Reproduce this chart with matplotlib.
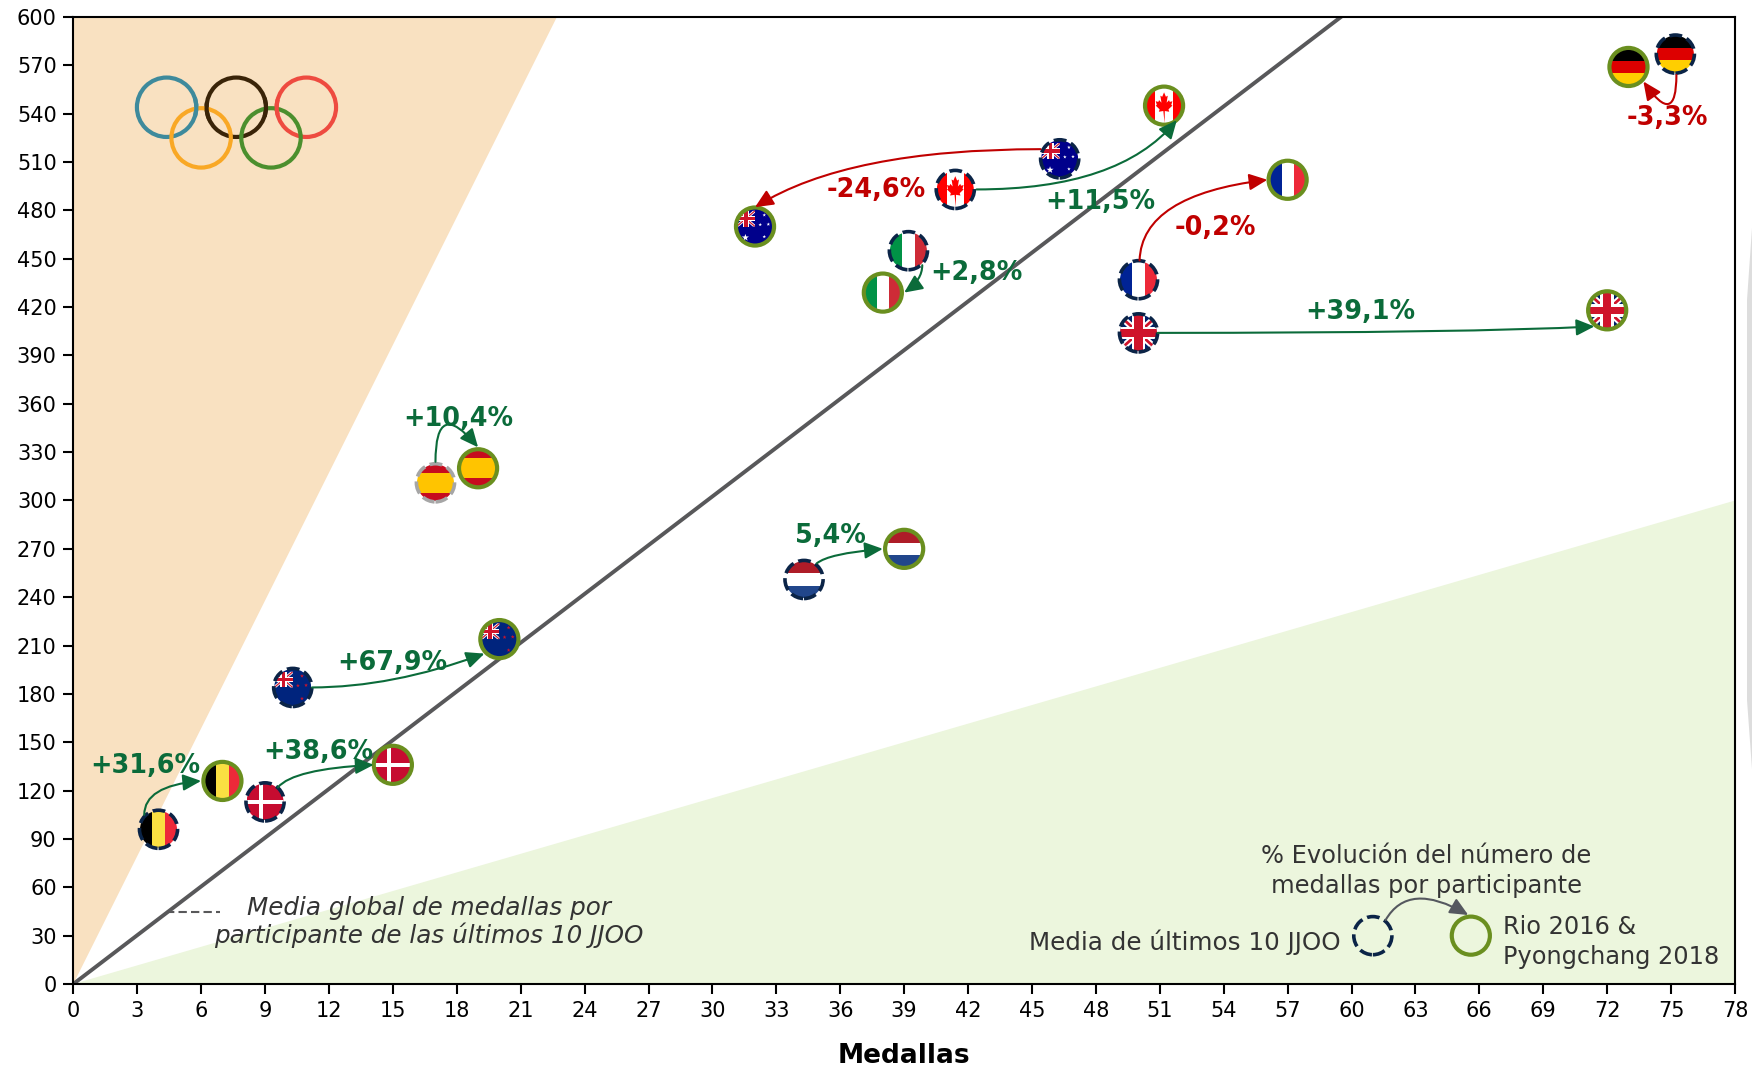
import matplotlib
matplotlib.use("Agg")
import matplotlib.pyplot as plt
from matplotlib.patches import Circle, Polygon, FancyArrowPatch, PathPatch
from matplotlib.path import Path
from matplotlib.transforms import Affine2D

plt.rcParams['font.family'] = ['DejaVu Sans']

# Medallas / participantes: media ultimos 10 JJOO -> Rio 2016 & Pyongchang 2018
countries = ['bel', 'dnk', 'nzl', 'esp', 'nld', 'ita', 'aus', 'can', 'fra', 'gbr', 'deu']
old_x = [4, 9, 10.3, 17, 34.3, 39.2, 46.3, 41.4, 50, 50, 75.2]
old_y = [96, 113, 184, 311, 251, 455, 512, 493, 437, 404, 577]
new_x = [7, 15, 20, 19, 39, 38, 32, 51.2, 57, 72, 73]
new_y = [126, 136, 214, 320, 270, 429, 470, 545, 499, 418, 569]

pct_labels = ['+31,6%', '+38,6%', '+67,9%', '+10,4%', '5,4%', '+2,8%', '-24,6%', '+11,5%', '-0,2%', '+39,1%', '-3,3%']
pct_x = [3.4, 11.5, 14.95, 18.05, 35.55, 42.4, 37.7, 48.2, 53.6, 60.4, 74.8]
pct_y = [135, 144, 199, 350.5, 278, 441, 492.5, 485, 469, 417, 537.5]
pct_color = ['g', 'g', 'g', 'g', 'g', 'g', 'r', 'g', 'r', 'g', 'r']

# extremos de las flechas, en las mismas unidades que los ejes
arrow_x0 = [3.33, 9.6, 11.2, 17, 34.9, 39.85, 45.4, 42.4, 50.05, 50.9, 75.25]
arrow_y0 = [105, 122, 184, 324, 261, 446, 518, 493, 449, 404, 564]
arrow_x1 = [6.0, 14.1, 19.3, 19, 38, 39, 32, 51.8, 56.05, 71.4, 73.7]
arrow_y1 = [126, 136, 205, 333, 270, 429, 482, 536, 499, 408, 560]
# angulos de salida y de llegada de cada curva
arrow_a = [90, 50, 0, 90, 40, 90, 0, 0, 88, 0, 90]
arrow_b = [5, 3, 20, -50, 5, 35, 32, 50, 7, 3, -55]

ring_x = [4.38, 7.65, 10.94, 6.0, 9.28]
ring_y = [544, 544, 544, 525, 525]
ring_col = ['#3E8A9C', '#3A2408', '#EE4B40', '#F9A825', '#4C8F2E']

ticks_x = list(range(0, 79, 3))
ticks_y = list(range(0, 601, 30))

GREEN = '#0B6B3A'
RED = '#C00000'
NAVY = '#0B2447'
OLIVE = '#6A8F1F'
R = 18.5  # radio de la bandera en pixeles

fig = plt.figure(figsize=(17.52, 10.69), dpi=100)
ax = fig.add_axes([73.3 / 1752, 1 - 984 / 1069, (1735 - 73.3) / 1752, 967 / 1069])
ax.set_xlim(0, 78)
ax.set_ylim(0, 600)
ax.set_xticks(ticks_x)
ax.set_yticks(ticks_y)
ax.tick_params(labelsize=15, length=7, width=1.5, pad=5)
for s in ax.spines.values():
    s.set_linewidth(1.5)
ax.set_xlabel('Medallas', fontsize=19, fontweight='bold', labelpad=16)

ax.fill([0, 22.7, 0], [0, 600, 600], color='#F9E1C1', lw=0, zorder=0)
ax.fill([0, 78, 78], [0, 300, 0], color='#ECF6DD', lw=0, zorder=0)
ax.plot([0, 59.5], [0, 600], color='#58585A', lw=2.8, zorder=1)
ax.plot([4.35, 6.9], [44.4, 44.4], color='#58585A', lw=1.5, ls=(0, (4, 2)), zorder=1)

# sombra gris que asoma en el borde derecho de la imagen
fig.add_artist(Polygon([(1752 / 1752, 1 - 228 / 1069), (1747 / 1752, 1 - 300 / 1069),
                        (1747 / 1752, 1 - 700 / 1069), (1752 / 1752, 1 - 769 / 1069)],
                       closed=True, fc='#DDDDDD', ec='none', transform=fig.transFigure))


def px(x, y):
    return ax.transData.transform((x, y))


def unit(x, y):
    cx, cy = px(x, y)
    return Affine2D().scale(R).translate(cx, cy)


def poly(tr, clip, pts, col, z=3):
    p = Polygon(pts, closed=True, fc=col, ec='none', transform=tr, zorder=z)
    ax.add_patch(p)
    p.set_clip_path(clip)


def bars(tr, clip, cols, edges, vertical=True):
    for c, a, b in zip(cols, edges, edges[1:]):
        if vertical:
            poly(tr, clip, [(a, -1), (b, -1), (b, 1), (a, 1)], c)
        else:
            poly(tr, clip, [(-1, a), (1, a), (1, b), (-1, b)], c)


def union_jack(tr, clip, x0, y0, w, h):
    def rect(a, b, c, d, col):
        poly(tr, clip, [(a, b), (c, b), (c, d), (a, d)], col)

    def diag(t, col):
        tx, ty = t * w, t * h
        poly(tr, clip, [(x0, y0), (x0 + tx, y0), (x0 + w, y0 + h - ty), (x0 + w, y0 + h),
                        (x0 + w - tx, y0 + h), (x0, y0 + ty)], col)
        poly(tr, clip, [(x0, y0 + h), (x0, y0 + h - ty), (x0 + w - tx, y0), (x0 + w, y0),
                        (x0 + w, y0 + ty), (x0 + tx, y0 + h)], col)

    cx, cy = x0 + w / 2, y0 + h / 2
    diag(0.12, 'white')
    diag(0.05, '#CF142B')
    rect(x0, cy - 0.17 * h, x0 + w, cy + 0.17 * h, 'white')
    rect(cx - 0.17 * w, y0, cx + 0.17 * w, y0 + h, 'white')
    rect(x0, cy - 0.1 * h, x0 + w, cy + 0.1 * h, '#CF142B')
    rect(cx - 0.1 * w, y0, cx + 0.1 * w, y0 + h, '#CF142B')


def stars(tr, clip, pts, col):
    star = Path.unit_regular_star(5, 0.4)
    for x, y, s in pts:
        p = PathPatch(star, fc=col, ec='none', zorder=3,
                      transform=Affine2D().scale(s).translate(x, y) + tr)
        ax.add_patch(p)
        p.set_clip_path(clip)


def draw_flag(code, tr, clip):
    if code == 'bel':
        bars(tr, clip, ['black', '#FAE042', '#ED2939'], [-1, -0.33, 0.33, 1])
    elif code == 'ita':
        bars(tr, clip, ['#009246', 'white', '#CE2B37'], [-1, -0.33, 0.33, 1])
    elif code == 'fra':
        bars(tr, clip, ['#002395', 'white', '#ED2939'], [-1, -0.33, 0.33, 1])
    elif code == 'deu':
        bars(tr, clip, ['#FFCE00', '#DD0000', 'black'], [-1, -0.33, 0.33, 1], vertical=False)
    elif code == 'nld':
        bars(tr, clip, ['#21468B', 'white', '#AE1C28'], [-1, -0.33, 0.33, 1], vertical=False)
    elif code == 'esp':
        bars(tr, clip, ['#C60B1E', '#FFC400', '#C60B1E'], [-1, -0.55, 0.55, 1], vertical=False)
    elif code == 'dnk':
        bars(tr, clip, ['#C60C30'], [-1, 1])
        poly(tr, clip, [(-1, -0.1), (1, -0.1), (1, 0.1), (-1, 0.1)], 'white')
        poly(tr, clip, [(-0.32, -1), (-0.12, -1), (-0.12, 1), (-0.32, 1)], 'white')
    elif code == 'can':
        bars(tr, clip, ['#FF0000', 'white', '#FF0000'], [-1, -0.47, 0.47, 1])
        half = [(0, 0.72), (0.1, 0.48), (0.2, 0.54), (0.14, 0.16), (0.27, 0.3), (0.31, 0.2),
                (0.45, 0.24), (0.39, 0.04), (0.45, 0), (0.24, -0.2), (0.28, -0.33), (0.04, -0.29),
                (0.03, -0.95)]
        leaf = half + [(-x, y) for x, y in reversed(half[:-1])]
        poly(tr, clip, leaf, '#FF0000')
    elif code == 'gbr':
        bars(tr, clip, ['#012169'], [-1, 1])
        union_jack(tr, clip, -1.1, -1, 2.2, 2)
    elif code == 'aus':
        bars(tr, clip, ['#00008B'], [-1, 1])
        union_jack(tr, clip, -1, 0, 1, 0.85)
        stars(tr, clip, [(-0.52, -0.6, 0.2), (0.5, 0.62, 0.1), (0.72, 0.12, 0.1),
                         (0.28, 0.1, 0.1), (0.5, -0.55, 0.1)], 'white')
    elif code == 'nzl':
        bars(tr, clip, ['#00247D'], [-1, 1])
        union_jack(tr, clip, -1, 0, 1, 0.85)
        stars(tr, clip, [(0.5, 0.62, 0.11), (0.72, 0.12, 0.11), (0.28, 0.1, 0.11),
                         (0.5, -0.6, 0.11)], '#CC142B')


def flag_marker(code, x, y, old):
    tr = unit(x, y)
    clip = Circle((0, 0), 1, transform=tr)
    draw_flag(code, tr, clip)
    if old:
        col = '#A6A6A6' if code == 'esp' else NAVY
        ax.add_patch(Circle((0, 0), 1.03, fc='none', ec=col, lw=2.6, ls=(0, (3.5, 1.4)),
                            transform=tr, zorder=4))
    else:
        ax.add_patch(Circle((0, 0), 1.03, fc='none', ec=OLIVE, lw=3, transform=tr, zorder=4))


def curve(x0, y0, x1, y1, a, b, col, z=5):
    ax.add_patch(FancyArrowPatch((x0, y0), (x1, y1), connectionstyle=f'angle3,angleA={a},angleB={b}',
                                 arrowstyle='-|>,head_length=11,head_width=5', mutation_scale=1,
                                 color=col, lw=1.5, shrinkA=0, shrinkB=0, zorder=z))


# aros olimpicos
for x, y, c in zip(ring_x, ring_y, ring_col):
    cx, cy = px(x, y)
    ax.add_patch(Circle((cx, cy), 29.7, fc='none', ec=c, lw=3, transform=None, zorder=2))
# entrelazado: se repasan los tramos que pasan por encima
for i, a, b in [(0, -18, 18), (1, -18, 18), (1, 170, 205), (2, 165, 195)]:
    cx, cy = px(ring_x[i], ring_y[i])
    arc = Path.arc(a, b)
    ax.add_patch(PathPatch(arc, fc='none', ec=ring_col[i], lw=3, capstyle='butt', zorder=2,
                           transform=Affine2D().scale(29.7).translate(cx, cy)))

for code, xo, yo, xn, yn in zip(countries, old_x, old_y, new_x, new_y):
    flag_marker(code, xo, yo, True)
    flag_marker(code, xn, yn, False)

for x0, y0, x1, y1, a, b, c in zip(arrow_x0, arrow_y0, arrow_x1, arrow_y1, arrow_a, arrow_b, pct_color):
    curve(x0, y0, x1, y1, a, b, GREEN if c == 'g' else RED)

for lab, x, y, c in zip(pct_labels, pct_x, pct_y, pct_color):
    ax.text(x, y, lab, color=GREEN if c == 'g' else RED, fontsize=18.4, fontweight='bold',
            ha='center', va='center', zorder=6)

ax.text(16.7, 38.6, 'Media global de medallas por\nparticipante de las últimos 10 JJOO', fontsize=17.7,
        style='italic', color='#333333', ha='center', va='center', linespacing=1.1, zorder=6)

# leyenda
TXT = '#333333'
ax.text(63.5, 70, '% Evolución del número de\nmedallas por participante', fontsize=17.4, color=TXT,
        ha='center', va='center', linespacing=1.3, zorder=6)
ax.text(59.5, 26, 'Media de últimos 10 JJOO', fontsize=17.7, color=TXT, ha='right', va='center', zorder=6)
ax.text(67.1, 26.2, 'Rio 2016 &\nPyongchang 2018', fontsize=17.3, color=TXT, ha='left', va='center',
        linespacing=1.3, zorder=6)
tr1 = unit(61, 30)
ax.add_patch(Circle((0, 0), 1.03, fc='none', ec=NAVY, lw=2.6, ls=(0, (3.5, 1.4)), transform=tr1, zorder=4))
tr2 = unit(65.6, 30)
ax.add_patch(Circle((0, 0), 1.03, fc='none', ec=OLIVE, lw=3, transform=tr2, zorder=4))
curve(61.6, 39.7, 65.48, 42.8, 60, -30, '#55585F')

fig.savefig('out.png', dpi=100)
